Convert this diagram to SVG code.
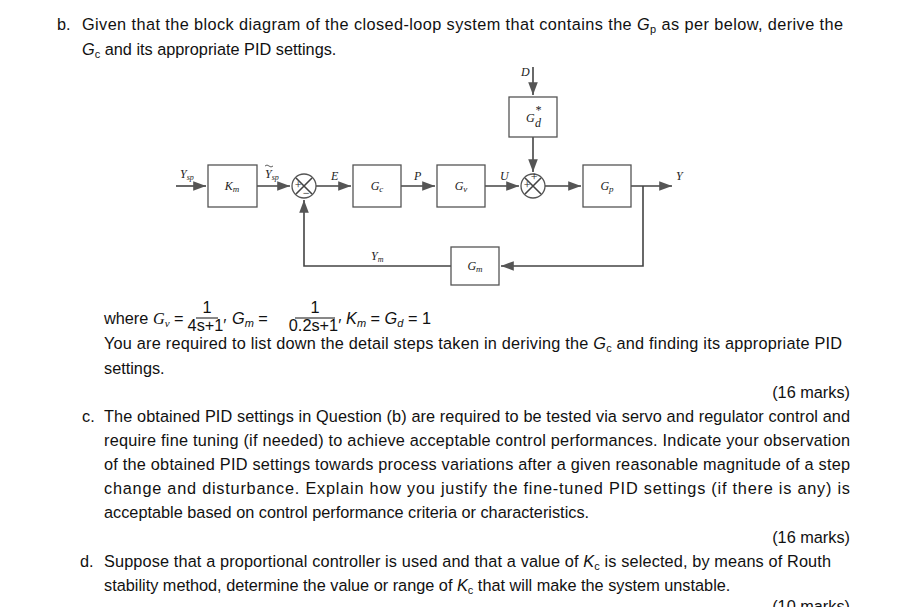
<svg xmlns="http://www.w3.org/2000/svg" width="915" height="607" viewBox="0 0 915 607">
<style>
.t{font-family:"Liberation Sans","Open Sans",sans-serif;font-size:16.3px;fill:#111}
.m{font-family:"Liberation Serif",serif;font-style:italic;font-size:12px;fill:#222}
.b{fill:#fff;stroke:#555;stroke-width:1.3}
.l{stroke:#444;stroke-width:1.6;fill:none}
</style>
<defs><marker id="a" markerWidth="8" markerHeight="6" refX="8" refY="3" orient="auto"><path d="M0,0L8,3L0,6z" fill="#555"/></marker></defs>
<rect width="915" height="607" fill="#fff"/>
<text class="t" x="57" y="30">b.</text>
<text class="t" x="82" y="30" textLength="761" lengthAdjust="spacing">Given that the block diagram of the closed-loop system that contains the <tspan font-style="italic">G</tspan><tspan font-size="11" dy="3">p</tspan><tspan dy="-3"> as per below, derive the</tspan></text>
<text class="t" x="82" y="55"><tspan font-style="italic">G</tspan><tspan font-size="11" dy="3">c</tspan><tspan dy="-3"> and its appropriate PID settings.</tspan></text>
<g id="connectors">
<path class="l" d="M176,186H206" marker-end="url(#a)"/>
<path class="l" d="M257,186H290" marker-end="url(#a)"/>
<path class="l" d="M316,186H351" marker-end="url(#a)"/>
<path class="l" d="M401,186H435" marker-end="url(#a)"/>
<path class="l" d="M485,186H519" marker-end="url(#a)"/>
<path class="l" d="M545,186H581" marker-end="url(#a)"/>
<path class="l" d="M631,186H672" marker-end="url(#a)"/>
<path class="l" d="M533,67V95" marker-end="url(#a)"/>
<path class="l" d="M533,137V172" marker-end="url(#a)"/>
<path class="l" d="M643,186V266H501" marker-end="url(#a)"/>
<path class="l" d="M451,266H304V200" marker-end="url(#a)"/>
</g>
<g id="Km"><rect class="b" x="208" y="165" width="49" height="42"/><text class="m" x="232" y="190" text-anchor="middle">K<tspan font-size="9" dy="2">m</tspan></text></g>
<g id="sum1"><circle class="b" cx="304" cy="186" r="12"/><path class="l" d="M296,178L312,194M312,178L296,194" stroke-width="1.2"/><text class="m" x="294" y="189" font-size="8" font-style="normal">+</text><text class="m" x="302" y="197" font-size="8" font-style="normal">−</text></g>
<g id="Gc"><rect class="b" x="353" y="165" width="48" height="42"/><text class="m" x="377" y="190" text-anchor="middle">G<tspan font-size="9" dy="2">c</tspan></text></g>
<g id="Gv"><rect class="b" x="437" y="165" width="48" height="42"/><text class="m" x="461" y="190" text-anchor="middle">G<tspan font-size="9" dy="2">v</tspan></text></g>
<g id="sum2"><circle class="b" cx="533" cy="186" r="12"/><path class="l" d="M525,178L541,194M541,178L525,194" stroke-width="1.2"/><text class="m" x="523" y="189" font-size="8" font-style="normal">+</text><text class="m" x="530" y="181" font-size="8" font-style="normal">+</text></g>
<g id="Gp"><rect class="b" x="583" y="165" width="48" height="42"/><text class="m" x="607" y="190" text-anchor="middle">G<tspan font-size="9" dy="2">p</tspan></text></g>
<g id="Gd"><rect class="b" x="509" y="97" width="48" height="40"/><text class="m" x="526" y="122">G</text><text class="m" x="535" y="114" font-size="9">*</text><text class="m" x="535" y="127" font-size="9">d</text></g>
<g id="Gm"><rect class="b" x="451" y="247" width="48" height="38"/><text class="m" x="475" y="270" text-anchor="middle">G<tspan font-size="9" dy="2">m</tspan></text></g>
<g id="labels">
<text class="m" x="180" y="178">Y<tspan font-size="8" dy="2">sp</tspan></text>
<text class="m" x="265" y="178">Y<tspan font-size="8" dy="2">sp</tspan></text><path d="M265,166q2,-2 4,0t4,0" stroke="#333" fill="none" stroke-width="0.8"/>
<text class="m" x="331" y="180">E</text>
<text class="m" x="414" y="180">P</text>
<text class="m" x="500" y="180">U</text>
<text class="m" x="676" y="180">Y</text>
<text class="m" x="521" y="76">D</text>
<text class="m" x="371" y="260">Y<tspan font-size="8" dy="2">m</tspan></text>
</g>
<text class="t" x="104" y="324">where <tspan font-family="Liberation Serif" font-style="italic">G<tspan font-size="11" dy="3">v</tspan></tspan><tspan dy="-3"> =</tspan></text>
<text class="t" x="207" y="313" font-size="9" text-anchor="middle">1</text><path d="M196,318H218" stroke="#111"/><text class="t" x="207" y="331" font-size="9.5" text-anchor="middle">4s+1′</text>
<text class="t" x="232" y="324" font-family="Liberation Serif" font-style="italic">G<tspan font-size="11" dy="3">m</tspan><tspan dy="-3" font-style="normal"> =</tspan></text>
<text class="t" x="315" y="313" font-size="9" text-anchor="middle">1</text><path d="M295,318H335" stroke="#111"/><text class="t" x="315" y="331" font-size="9.5" text-anchor="middle">0.2s+1′</text>
<text class="t" x="346" y="324" font-family="Liberation Serif" font-style="italic">K<tspan font-size="11" dy="3">m</tspan><tspan dy="-3" font-style="normal"> = </tspan>G<tspan font-size="11" dy="3">d</tspan><tspan dy="-3" font-style="normal"> = 1</tspan></text>
<text class="t" x="104" y="349" textLength="738" lengthAdjust="spacing">You are required to list down the detail steps taken in deriving the <tspan font-style="italic">G</tspan><tspan font-size="11" dy="3">c</tspan><tspan dy="-3"> and finding its appropriate PID</tspan></text>
<text class="t" x="104" y="374">settings.</text>
<text class="t" x="850" y="398" text-anchor="end">(16 marks)</text>
<text class="t" x="82" y="422">c.</text>
<text class="t" x="104" y="422" textLength="746" lengthAdjust="spacing">The obtained PID settings in Question (b) are required to be tested via servo and regulator control and</text>
<text class="t" x="104" y="446" textLength="746" lengthAdjust="spacing">require fine tuning (if needed) to achieve acceptable control performances. Indicate your observation</text>
<text class="t" x="104" y="470" textLength="746" lengthAdjust="spacing">of the obtained PID settings towards process variations after a given reasonable magnitude of a step</text>
<text class="t" x="104" y="494" textLength="746" lengthAdjust="spacing">change and disturbance. Explain how you justify the fine-tuned PID settings (if there is any) is</text>
<text class="t" x="104" y="518">acceptable based on control performance criteria or characteristics.</text>
<text class="t" x="850" y="543" text-anchor="end">(16 marks)</text>
<text class="t" x="80" y="567">d.</text>
<text class="t" x="104" y="567" textLength="727" lengthAdjust="spacing">Suppose that a proportional controller is used and that a value of <tspan font-style="italic">K</tspan><tspan font-size="11" dy="3">c</tspan><tspan dy="-3"> is selected, by means of Routh</tspan></text>
<text class="t" x="104" y="591">stability method, determine the value or range of <tspan font-style="italic">K</tspan><tspan font-size="11" dy="3">c</tspan><tspan dy="-3"> that will make the system unstable.</tspan></text>
<text class="t" x="850" y="612" text-anchor="end">(10 marks)</text>
</svg>
